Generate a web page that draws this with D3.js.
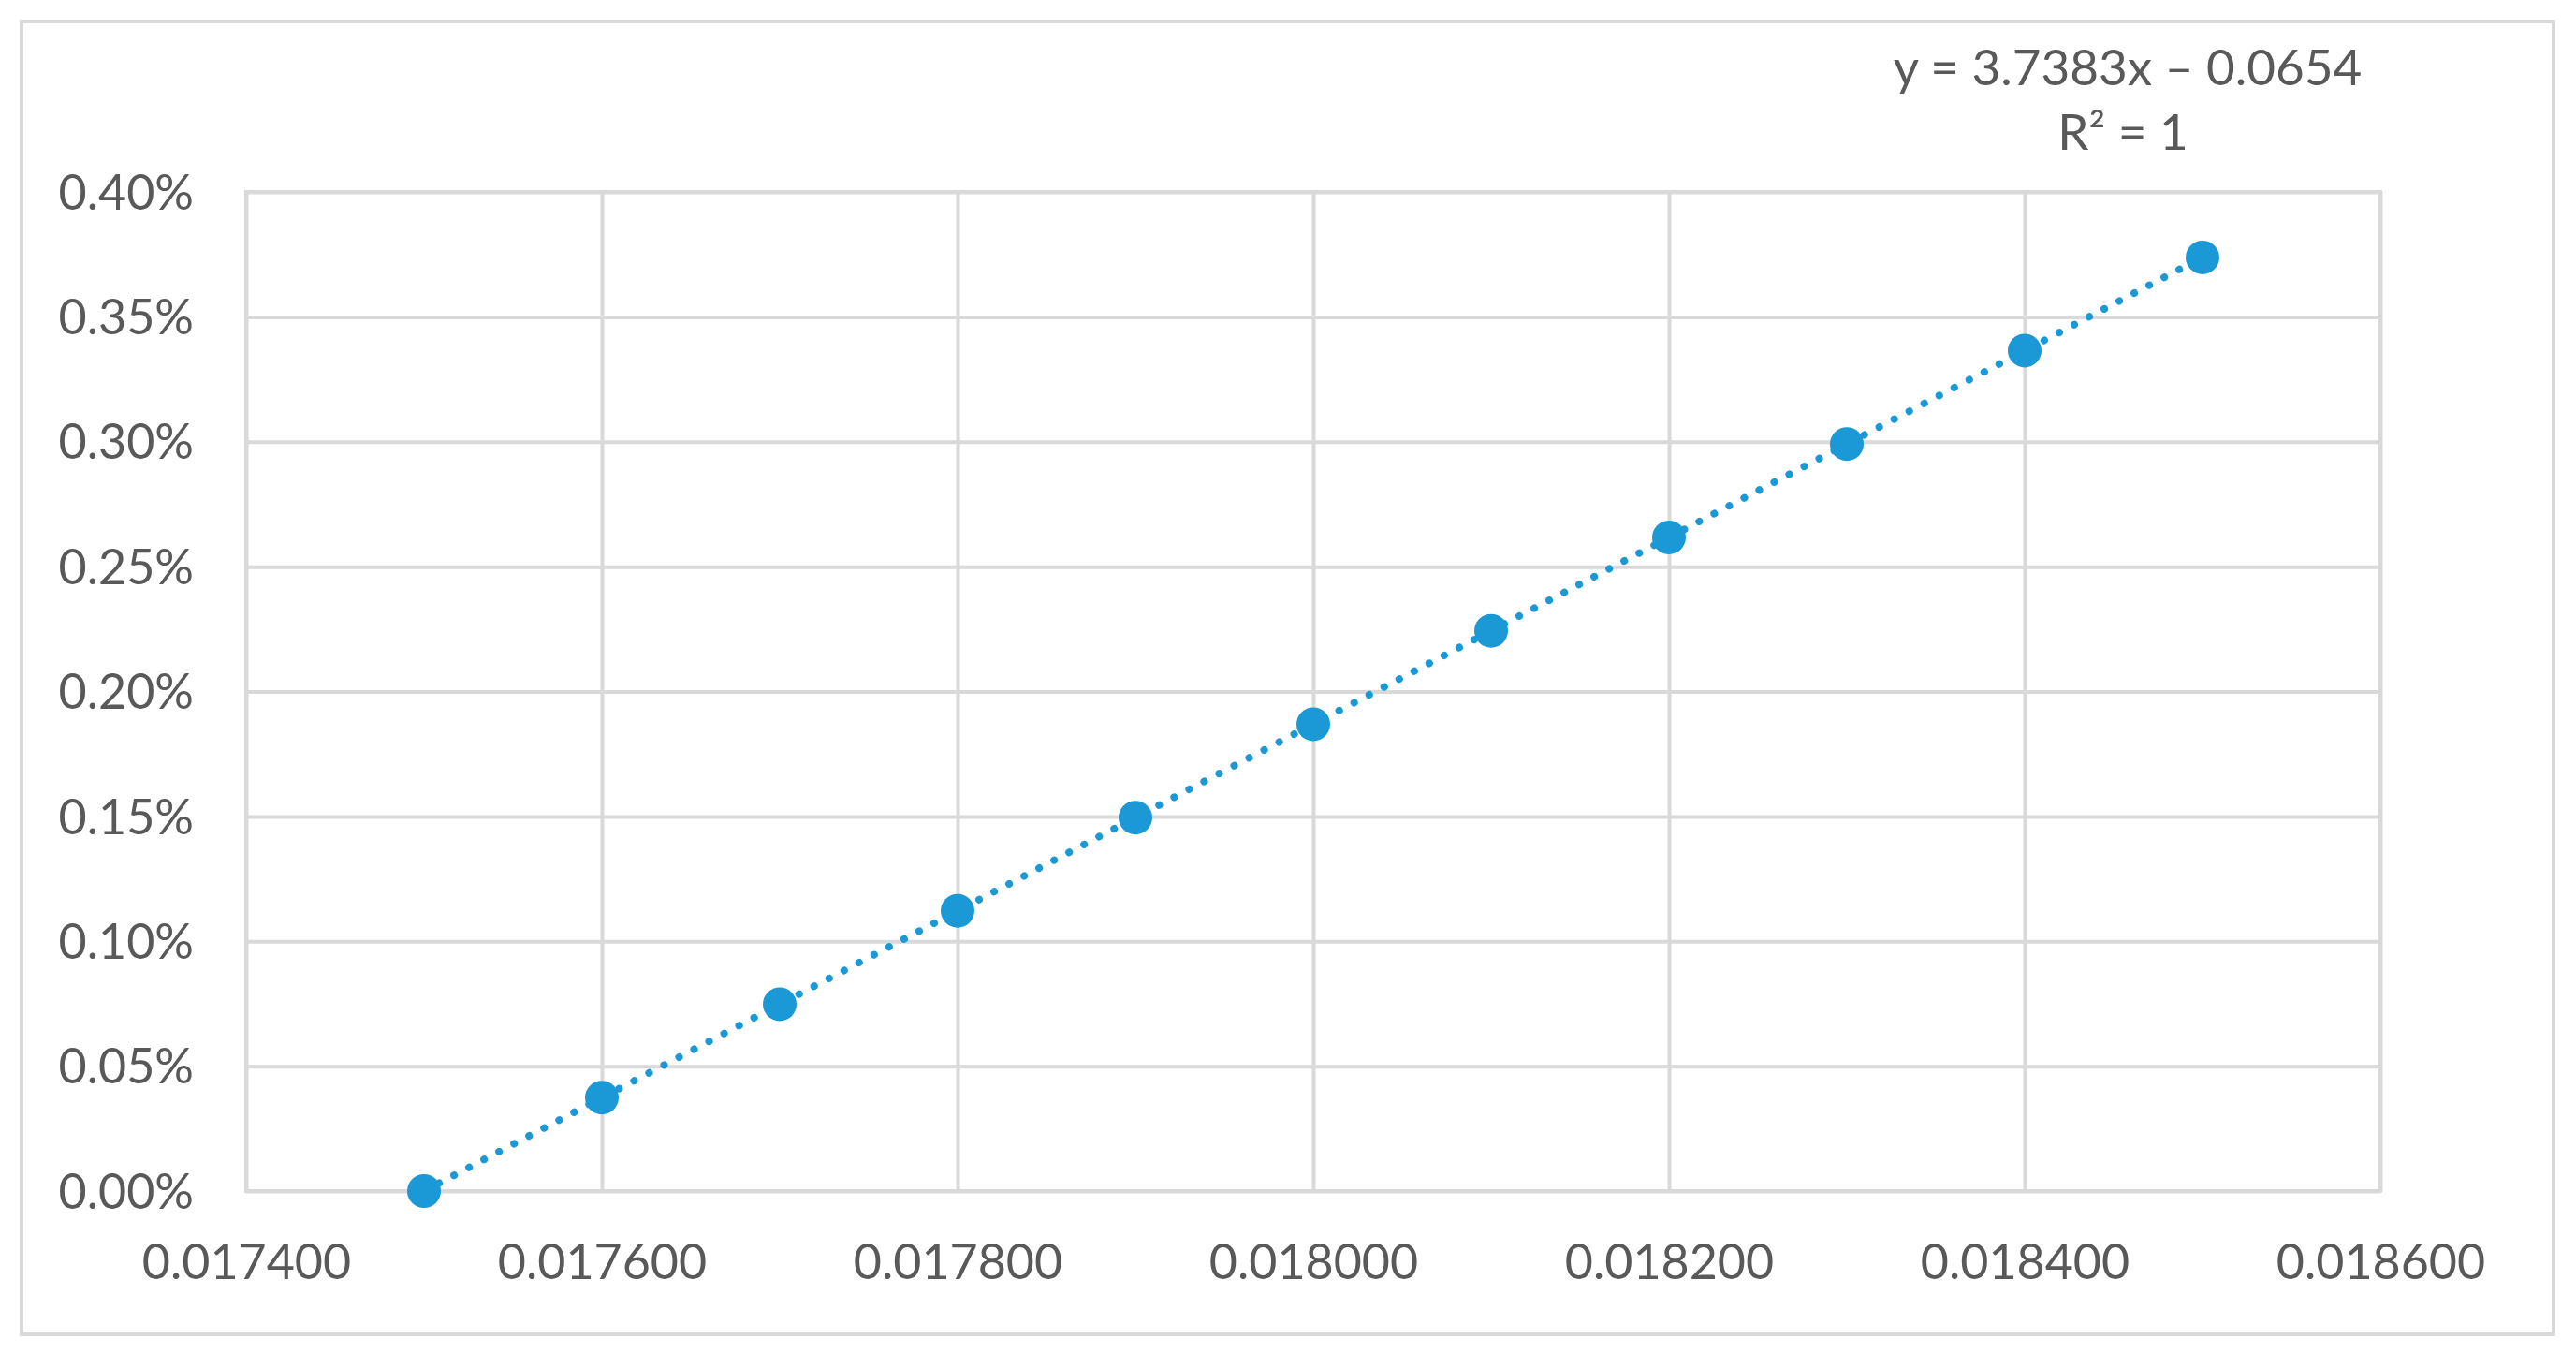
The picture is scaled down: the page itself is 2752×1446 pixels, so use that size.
<!DOCTYPE html>
<html>
<head>
<meta charset="utf-8">
<script src="https://cdn.jsdelivr.net/npm/d3@7"></script>
<style>
  html, body { margin: 0; padding: 0; background: #ffffff; }
  svg { display: block; }
</style>
</head>
<body>
<svg id="chart" width="2752" height="1446"></svg>
<script>
// ---- data ----
const xValues = [0.0175, 0.0176, 0.0177, 0.0178, 0.0179, 0.0180, 0.0181, 0.0182, 0.0183, 0.0184, 0.0185];
const yValues = [0.000000, 0.000374, 0.000748, 0.001122, 0.001495, 0.001869, 0.002243, 0.002617, 0.002991, 0.003365, 0.003738];
const xTicks = [0.0174, 0.0176, 0.0178, 0.0180, 0.0182, 0.0184, 0.0186];
const yTicks = [0, 0.0005, 0.001, 0.0015, 0.002, 0.0025, 0.003, 0.0035, 0.004];
const equationLines = ["y = 3.7383x \u2013 0.0654", "R\u00B2 = 1"];

// ---- layout ----
const W = 2752, H = 1446;
const plot = { left: 263, right: 2543, top: 205, bottom: 1272 };
const font = "Lato, 'Open Sans', sans-serif";
const textColor = "#595959";
const gridColor = "#d9d9d9";
const blue = "#1b98d6";

const svg = d3.select("#chart");

// outer chart border
svg.append("rect")
  .attr("x", 23).attr("y", 23)
  .attr("width", 2728 - 23).attr("height", 1425 - 23)
  .attr("fill", "#ffffff")
  .attr("stroke", gridColor).attr("stroke-width", 4);

const x = d3.scaleLinear().domain([0.0174, 0.0186]).range([plot.left, plot.right]);
const y = d3.scaleLinear().domain([0, 0.004]).range([plot.bottom, plot.top]);

// gridlines via axes
const xGrid = d3.axisBottom(x).tickValues(xTicks).tickSize(-(plot.bottom - plot.top)).tickFormat("");
const yGrid = d3.axisLeft(y).tickValues(yTicks).tickSize(-(plot.right - plot.left)).tickFormat("");

const gx = svg.append("g").attr("transform", `translate(0,${plot.bottom})`).call(xGrid);
gx.selectAll(".tick line").attr("stroke", gridColor).attr("stroke-width", 4);
gx.select(".domain").remove();

const gy = svg.append("g").attr("transform", `translate(${plot.left},0)`).call(yGrid);
gy.selectAll(".tick line").attr("stroke", gridColor).attr("stroke-width", 4);
gy.select(".domain").remove();

// plot-area border
svg.append("rect")
  .attr("x", plot.left).attr("y", plot.top)
  .attr("width", plot.right - plot.left).attr("height", plot.bottom - plot.top)
  .attr("fill", "none").attr("stroke", gridColor).attr("stroke-width", 4);

// axis labels
const xAxis = d3.axisBottom(x).tickValues(xTicks).tickSize(0).tickPadding(60)
  .tickFormat(d3.format(".6f"));
const ax = svg.append("g").attr("transform", `translate(0,${plot.bottom})`).call(xAxis);
ax.select(".domain").remove();
ax.selectAll("text").attr("font-family", font).attr("font-size", 52)
  .attr("fill", textColor).attr("dy", "0.32em").attr("y", 77);

const yAxis = d3.axisLeft(y).tickValues(yTicks).tickSize(0).tickPadding(56)
  .tickFormat(d3.format(".2%"));
const ay = svg.append("g").attr("transform", `translate(${plot.left},0)`).call(yAxis);
ay.select(".domain").remove();
ay.selectAll("text").attr("font-family", font).attr("font-size", 52)
  .attr("fill", textColor).attr("dy", "0.35em");

// linear regression trendline
const n = xValues.length;
const mx = d3.mean(xValues), my = d3.mean(yValues);
let sxy = 0, sxx = 0;
for (let i = 0; i < n; i++) { sxy += (xValues[i] - mx) * (yValues[i] - my); sxx += (xValues[i] - mx) ** 2; }
const slope = sxy / sxx, intercept = my - slope * mx;
const x0 = d3.min(xValues), x1 = d3.max(xValues);
svg.append("line")
  .attr("x1", x(x0)).attr("y1", y(slope * x0 + intercept))
  .attr("x2", x(x1)).attr("y2", y(slope * x1 + intercept))
  .attr("stroke", blue).attr("stroke-width", 8)
  .attr("stroke-linecap", "round")
  .attr("stroke-dasharray", "0.1 18");

// points
svg.append("g").selectAll("circle")
  .data(xValues.map((v, i) => [v, yValues[i]]))
  .join("circle")
  .attr("cx", d => x(d[0])).attr("cy", d => y(d[1]))
  .attr("r", 18).attr("fill", blue);

// equation label
const eq = svg.append("text")
  .attr("font-family", font).attr("font-size", 53).attr("fill", textColor)
  .attr("text-anchor", "middle");
eq.append("tspan").attr("x", 2273).attr("y", 72).attr("dy", "0.35em").text(equationLines[0]);
eq.append("tspan").attr("x", 2268).attr("y", 141).attr("dy", "0.35em").text(equationLines[1]);
</script>
</body>
</html>
